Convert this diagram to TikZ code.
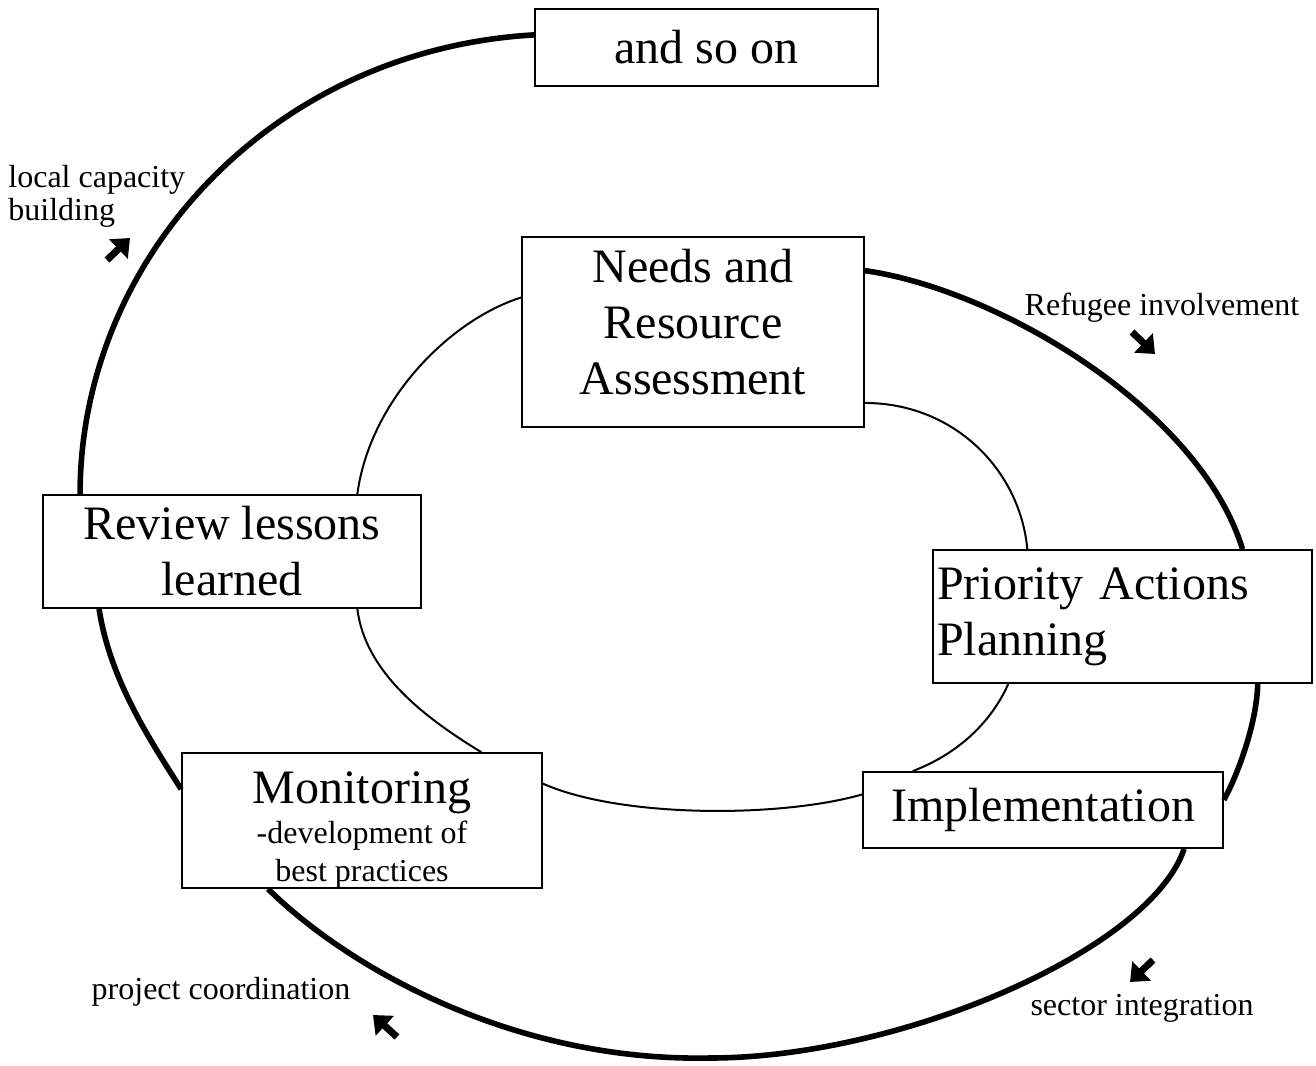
\documentclass[tikz,border=0pt]{standalone}
\usepackage{fontspec}
\setmainfont{Liberation Serif}
\usetikzlibrary{arrows.meta,calc,positioning}

\begin{document}
\begin{tikzpicture}[x=0.5pt,y=-0.5pt]
  \tikzstyle{concept}=[shape=rectangle, color=black, draw, fill=white, line width=0.9pt, inner sep=0pt, align=center, font=\fontsize{24}{28}\selectfont]
  \tikzstyle{note}=[inner sep=0pt, align=left, font=\fontsize{16}{16.5}\selectfont]
  \tikzstyle{connection}=[color=black, line width=1pt]
  \tikzstyle{spiral}=[color=black, line width=2.8pt]
  \tikzstyle{hint}=[color=black, line width=3.5pt, -{Triangle[length=8pt,width=13pt]}]

  \useasboundingbox (0,0) rectangle (1316,1065);

  \node [concept,minimum width=171.5pt,minimum height=38.5pt] (S) at (706.5,47.5) {and so on};
  \node [concept,minimum width=171pt,minimum height=95pt,text depth=10pt] (N) at (693,332) {Needs and\\Resource\\Assessment};
  \node [concept,minimum width=189.5pt,minimum height=66.5pt,text width=185.5pt,inner xsep=2pt,align=left] (P) at (1122.5,616.5) {Priority Actions\\Planning};
  \node [concept,minimum width=180pt,minimum height=38pt] (I) at (1043,810) {Implementation};
  \node [concept,minimum width=180pt,minimum height=66.5pt] (M) at (362,820.5) {\rule{0pt}{25pt}Monitoring\\[-8pt]{\fontsize{16}{19}\selectfont -development of}\\[-9pt]{\fontsize{16}{19}\selectfont best practices}};
  \node [concept,minimum width=189pt,minimum height=56.5pt] (R) at (232,551.5) {Review lessons\\learned};

  \node [note,anchor=north west] (L) at (8,165) {local capacity\\building};
  \node [note] (F) at (1162,308) {Refugee involvement};
  \node [note] (G) at (1142,1008) {sector integration};
  \node [note] (C) at (221,992) {project coordination};

  % inner loop
  \draw[connection] ($(N.north east)!0.87!(N.south east)$) .. controls (954,403) and (1020,470) .. ($(P.north west)!0.25!(P.north east)$);
  \draw[connection] ($(P.south west)!0.2!(P.south east)$) .. controls (990,725) and (955,755) .. ($(I.north west)!0.14!(I.north east)$);
  \draw[connection] ($(I.north west)!0.3!(I.south west)$) .. controls (780,818) and (620,818) .. ($(M.north east)!0.23!(M.south east)$);
  \draw[connection] ($(M.north west)!0.83!(M.north east)$) .. controls (420,715) and (365,670) .. ($(R.south west)!0.83!(R.south east)$);
  \draw[connection] ($(R.north west)!0.83!(R.north east)$) .. controls (370,400) and (450,320) .. ($(N.north west)!0.32!(N.south west)$);

  % outer loop
  \draw[spiral] ($(N.north east)!0.18!(N.south east)$) .. controls (1000,290) and (1200,410) .. ($(P.north west)!0.815!(P.north east)$);
  \draw[spiral] ($(P.south west)!0.855!(P.south east)$) .. controls (1257,720) and (1240,770) .. ($(I.north east)!0.37!(I.south east)$);
  \draw[spiral] ($(I.south west)!0.89!(I.south east)$) .. controls (1150,950) and (900,1058) .. (710,1058)
    .. controls (510,1062) and (345,965) .. ($(M.south west)!0.24!(M.south east)$);
  \draw[spiral] ($(M.north west)!0.27!(M.south west)$) .. controls (150,740) and (110,680) .. ($(R.south west)!0.15!(R.south east)$);
  \draw[spiral] ($(R.north west)!0.1!(R.north east)$) .. controls (80,260) and (270,50) .. ($(S.north west)!0.34!(S.south west)$);

  \draw[hint] (107,260) -- (130,238);
  \draw[hint] (1132,332) -- (1155,354);
  \draw[hint] (1153,960) -- (1130,982);
  \draw[hint] (397,1037) -- (373,1015);
\end{tikzpicture}
\end{document}
